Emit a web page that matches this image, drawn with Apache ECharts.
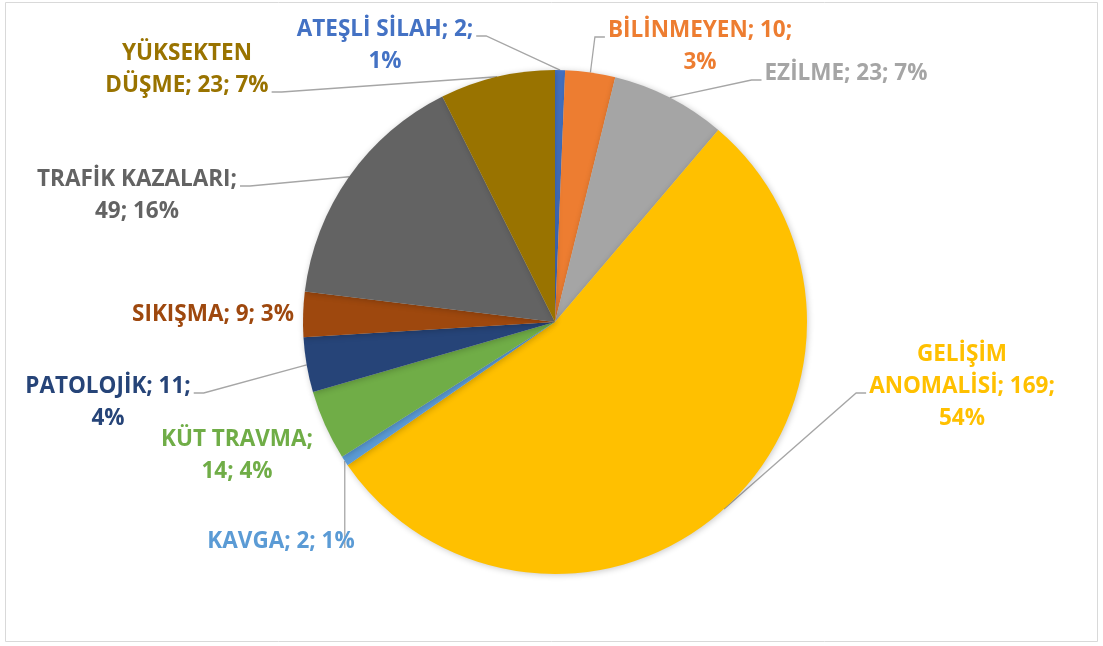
<!DOCTYPE html>
<html>
<head>
<meta charset="utf-8">
<script src="https://cdn.jsdelivr.net/npm/echarts@6/dist/echarts.min.js"></script>
<style>
  html, body { margin: 0; padding: 0; background: #fff; }
  #chart { width: 1103px; height: 646px; }
</style>
</head>
<body>
<div id="chart"></div>
<script>
// data
const categories = ['ATEŞLİ SİLAH', 'BİLİNMEYEN', 'EZİLME', 'GELİŞİM ANOMALİSİ', 'KAVGA',
  'KÜT TRAVMA', 'PATOLOJİK', 'SIKIŞMA', 'TRAFİK KAZALARI', 'YÜKSEKTEN DÜŞME'];
const counts = [2, 10, 23, 169, 2, 14, 11, 9, 49, 23];
const colors = ['#4472C4', '#ED7D31', '#A5A5A5', '#FFC000', '#5B9BD5',
  '#70AD47', '#264478', '#9E480E', '#636363', '#997300'];

// label layout: centre of each label block, where lines break,
// and which text line the leader line attaches to
const labelPos = [[385, 46], [700, 47], [846, 74], [962, 387], [281, 542],
  [237, 456], [108, 403], [213, 315], [137, 196], [187, 70]];
const breakAfter = [[3], [2], [], [1, 3], [], [2], [2], [], [2], [1]];
const anchorLine = [0, 0, 0, 1, 0, 0, 0, 0, 0, 1];
const noLine = [5, 7];
const straightDown = [4];
const LINE_H = 32;

const total = counts.reduce((a, b) => a + b, 0);

const chart = echarts.init(document.getElementById('chart'));

const option = {
  backgroundColor: '#fff',
  graphic: [{
    type: 'rect',
    shape: { x: 5.5, y: 2.5, width: 1092, height: 639 },
    style: { fill: 'none', stroke: '#D9D9D9', lineWidth: 1 }
  }],
  series: [{
    type: 'pie',
    center: [555, 322],
    radius: 252,
    startAngle: 90,
    clockwise: true,
    avoidLabelOverlap: false,
    animation: false,
    itemStyle: {
      shadowBlur: 6,
      shadowColor: 'rgba(0,0,0,0.22)',
      shadowOffsetX: 1,
      shadowOffsetY: 1
    },
    label: {
      show: true,
      position: 'outside',
      fontFamily: 'Open Sans',
      fontWeight: 'bold',
      fontSize: 22.5,
      lineHeight: LINE_H,
      align: 'center',
      formatter: p => {
        const words = p.name.split(' ');
        words[words.length - 1] += ';';
        words.push(p.value + ';');
        words.push(Math.round(p.value / total * 100) + '%');
        const br = breakAfter[p.dataIndex];
        let s = '';
        words.forEach((w, i) => {
          s += w;
          if (i < words.length - 1) s += br.includes(i + 1) ? '\n' : ' ';
        });
        return s;
      }
    },
    labelLine: {
      show: true,
      lineStyle: { color: '#A6A6A6', width: 1.3 }
    },
    labelLayout: p => {
      const i = p.dataIndex;
      const [x, y] = labelPos[i];
      const w = p.labelRect.width, h = p.labelRect.height;
      const edge = p.labelLinePoints ? p.labelLinePoints[0] : null;
      const out = { x, y, align: 'center', verticalAlign: 'middle' };
      if (edge) {
        const ay = y - h / 2 + anchorLine[i] * LINE_H + LINE_H / 2 + 6;
        if (straightDown.includes(i)) {
          out.labelLinePoints = [edge, [edge[0], (edge[1] + ay) / 2], [edge[0], ay]];
        } else {
          let ax, bx;
          if (edge[0] > x) { ax = x + w / 2 + 3; bx = ax + 10; }
          else { ax = x - w / 2 - 3; bx = ax - 10; }
          out.labelLinePoints = [edge, [bx, ay], [ax, ay]];
        }
      }
      return out;
    },
    data: categories.map((c, i) => ({
      name: c,
      value: counts[i],
      itemStyle: { color: colors[i] },
      label: { color: colors[i] },
      labelLine: { show: !noLine.includes(i) }
    }))
  }]
};

chart.setOption(option);
</script>
</body>
</html>
